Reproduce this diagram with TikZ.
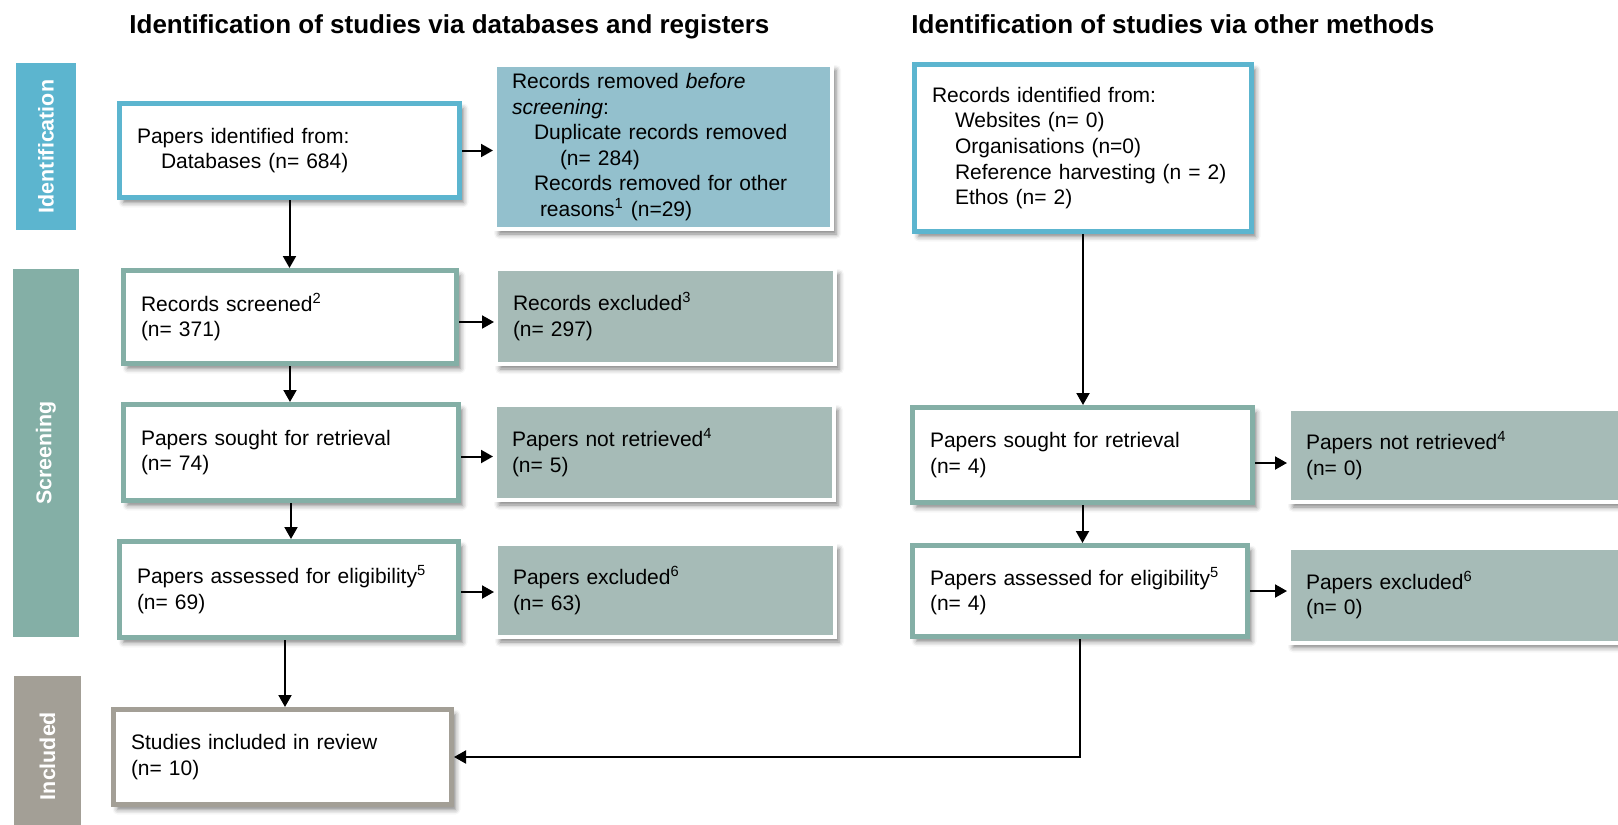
\documentclass[tikz,border=0pt]{standalone}
\usepackage{fontspec}
\setmainfont{Liberation Sans}
\usetikzlibrary{arrows.meta,shadows.blur,calc}

\definecolor{idblue}{RGB}{92,181,207}
\definecolor{scrteal}{RGB}{132,175,166}
\definecolor{incgrey}{RGB}{163,159,150}
\definecolor{removedfill}{RGB}{147,192,205}
\definecolor{exclfill}{RGB}{166,187,183}

\begin{document}
\begin{tikzpicture}[
  x=0.5pt, y=-0.5pt,
  softshadow/.style={blur shadow={shadow xshift=2pt, shadow yshift=-2.5pt,
      shadow blur radius=2.5pt, shadow opacity=50}},
  basebox/.style={rectangle, align=left, inner ysep=0pt,
      font=\fontsize{10.5}{12.8}\selectfont, softshadow},
  whitebox/.style={basebox, fill=white, draw=#1, line width=2.5pt, inner xsep=8.75pt},
  shadedbox/.style={basebox, fill=#1, draw=white, line width=2pt, inner xsep=8.5pt},
  sidebar/.style={rectangle, fill=#1, rotate=90, inner sep=0pt, text=white,
      font=\bfseries\fontsize{10.7}{12}\selectfont},
  heading/.style={inner sep=0pt, anchor=base west,
      font=\bfseries\fontsize{13}{15.6}\selectfont},
  conn/.style={-{Triangle[length=6pt,width=6.5pt]}, line width=1pt}
]
\useasboundingbox (0,0) rectangle (1618,825);

% column headings
\node[heading] (head1) at (129,33) {Identification of studies via databases and registers};
\node[heading] (head2) at (911,33) {Identification of studies via other methods};

% phase bars
\node[sidebar=idblue, minimum width=83.5pt, minimum height=30pt] (barid) at (46,146.5) {Identification};
\node[sidebar=scrteal, minimum width=184pt, minimum height=33pt] (barscr) at (46,453) {Screening};
\node[sidebar=incgrey, minimum width=80pt, minimum height=33.5pt] (barinc) at (47.5,756) {Included};

% databases and registers
\node[whitebox=idblue, minimum width=170pt, minimum height=47pt, text width=152.5pt] (ident) at (289.5,150.5)
  {Papers identified from:\\\hspace*{12pt}Databases (n= 684)};
\node[whitebox=scrteal, minimum width=166.5pt, minimum height=46.5pt, text width=149pt] (screened) at (290,317)
  {Records screened\textsuperscript{2}\\(n= 371)};
\node[whitebox=scrteal, minimum width=167.5pt, minimum height=48pt, text width=150pt] (sought) at (291,452.5)
  {Papers sought for retrieval\\(n= 74)};
\node[whitebox=scrteal, minimum width=169.5pt, minimum height=48pt, text width=152pt] (assessed) at (289,589.5)
  {Papers assessed for eligibility\textsuperscript{5}\\(n= 69)};
\node[whitebox=incgrey, minimum width=169pt, minimum height=47.5pt, text width=151.5pt] (included) at (282.5,757)
  {Studies included in review\\(n= 10)};

\node[shadedbox=removedfill, minimum width=168.5pt, minimum height=82pt, text width=151.5pt] (removed) at (663.5,147)
  {Records removed \textit{before}\\\textit{screening}:\\
   \hspace*{11pt}Duplicate records removed\\\hspace*{24pt}(n= 284)\\
   \hspace*{11pt}Records removed for other\\\hspace*{14pt}reasons\textsuperscript{1} (n=29)};
\node[shadedbox=exclfill, minimum width=169.5pt, minimum height=47.5pt, text width=152.5pt] (recexcl) at (665.5,316.5)
  {Records excluded\textsuperscript{3}\\(n= 297)};
\node[shadedbox=exclfill, minimum width=169.5pt, minimum height=47.5pt, text width=152.5pt] (notret) at (664.5,452.5)
  {Papers not retrieved\textsuperscript{4}\\(n= 5)};
\node[shadedbox=exclfill, minimum width=169.5pt, minimum height=46.5pt, text width=152.5pt] (paperexcl) at (665.5,590.5)
  {Papers excluded\textsuperscript{6}\\(n= 63)};

% other methods
\node[whitebox=idblue, minimum width=168.5pt, minimum height=83.5pt, text width=151pt] (oident) at (1083,148)
  {Records identified from:\\\hspace*{11.5pt}Websites (n= 0)\\\hspace*{11.5pt}Organisations (n=0)\\
   \hspace*{11.5pt}Reference harvesting (n = 2)\\\hspace*{11.5pt}Ethos (n= 2)};
\node[whitebox=scrteal, minimum width=170pt, minimum height=47.5pt, text width=152.5pt] (sought2) at (1082.5,455)
  {Papers sought for retrieval\\(n= 4)};
\node[whitebox=scrteal, minimum width=167.5pt, minimum height=45.5pt, text width=150pt] (assessed2) at (1080,591)
  {Papers assessed for eligibility\textsuperscript{5}\\(n= 4)};
\node[shadedbox=exclfill, minimum width=169.5pt, minimum height=46.5pt, text width=152.5pt] (notret2) at (1458.5,455.5)
  {Papers not retrieved\textsuperscript{4}\\(n= 0)};
\node[shadedbox=exclfill, minimum width=169.5pt, minimum height=47.5pt, text width=152.5pt] (excl2) at (1458.5,595)
  {Papers excluded\textsuperscript{6}\\(n= 0)};

% connectors, left column
\draw[conn] (ident.east) -- (ident.east -| removed.west);
\draw[conn] (ident.south) -- (ident.south |- screened.north);
\draw[conn] ([yshift=-2.5pt]screened.east) -- ([yshift=-2.5pt]screened.east -| recexcl.west);
\draw[conn] (screened.south) -- (screened.south |- sought.north);
\draw[conn] ([yshift=-2pt]sought.east) -- ([yshift=-2pt]sought.east -| notret.west);
\draw[conn] (sought.south) -- (sought.south |- assessed.north);
\draw[conn] ([yshift=-1.25pt]assessed.east) -- ([yshift=-1.25pt]assessed.east -| paperexcl.west);
\draw[conn] ([xshift=1.25pt]included.north |- assessed.south) -- ([xshift=1.25pt]included.north);

% connectors, right column
\draw[conn] (oident.south) -- (oident.south |- sought2.north);
\draw[conn] ([yshift=-4pt]sought2.east) -- ([yshift=-4pt]sought2.east -| notret2.west);
\draw[conn] (sought2.south) -- (sought2.south |- assessed2.north);
\draw[conn] (assessed2.east) -- (assessed2.east -| excl2.west);
\draw[conn] (assessed2.south) |- (included.east);
\end{tikzpicture}
\end{document}
